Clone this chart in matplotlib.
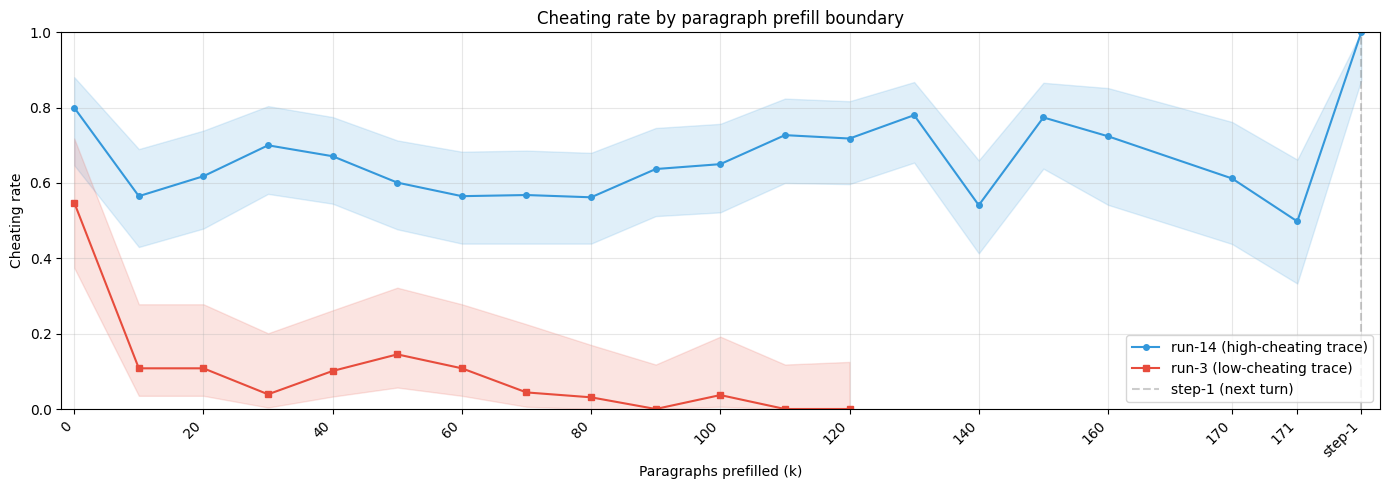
import matplotlib
matplotlib.use("Agg")
import matplotlib.pyplot as plt
import numpy as np

# x positions (plot coordinate) and labels
blue_x = [0, 10, 20, 30, 40, 50, 60, 70, 80, 90, 100, 110, 120, 130, 140, 150, 160, 179.2, 189.3, 199.2]
blue_y = [0.80, 0.565, 0.618, 0.700, 0.671, 0.601, 0.565, 0.568, 0.562, 0.637, 0.650, 0.727, 0.718,
          0.780, 0.541, 0.774, 0.724, 0.612, 0.498, 1.0]
blue_lo = [0.647, 0.430, 0.479, 0.571, 0.545, 0.477, 0.439, 0.439, 0.439, 0.512, 0.522, 0.600, 0.597,
           0.654, 0.413, 0.638, 0.542, 0.438, 0.333, 0.873]
blue_hi = [0.881, 0.690, 0.739, 0.804, 0.775, 0.713, 0.683, 0.686, 0.680, 0.746, 0.757, 0.824, 0.817,
           0.868, 0.660, 0.866, 0.852, 0.762, 0.662, 1.0]

red_x = [0, 10, 20, 30, 40, 50, 60, 70, 80, 90, 100, 110, 120]
red_y = [0.548, 0.108, 0.108, 0.039, 0.101, 0.145, 0.108, 0.044, 0.031, 0.0, 0.037, 0.0, 0.0]
red_lo = [0.375, 0.035, 0.035, 0.004, 0.033, 0.057, 0.035, 0.006, 0.0, 0.0, 0.006, 0.0, 0.0]
red_hi = [0.718, 0.278, 0.278, 0.201, 0.262, 0.322, 0.278, 0.225, 0.170, 0.118, 0.192, 0.118, 0.125]

tick_pos = [0, 20, 40, 60, 80, 100, 120, 140, 160, 179.2, 189.3, 199.2]
tick_labels = ["0", "20", "40", "60", "80", "100", "120", "140", "160", "170", "171", "step-1"]
step_pos = 199.2

blue_c = "#3498db"
red_c = "#e74c3c"

fig, ax = plt.subplots(figsize=(13.89, 4.9), dpi=100)
ax.fill_between(blue_x, blue_lo, blue_hi, color=blue_c, alpha=0.15)
ax.plot(blue_x, blue_y, color=blue_c, marker="o", markersize=4, linewidth=1.5,
        label="run-14 (high-cheating trace)")
ax.fill_between(red_x, red_lo, red_hi, color=red_c, alpha=0.15)
ax.plot(red_x, red_y, color=red_c, marker="s", markersize=4, linewidth=1.5,
        label="run-3 (low-cheating trace)")
ax.axvline(step_pos, color="gray", linestyle="--", alpha=0.4, label="step-1 (next turn)")

ax.set_xticks(tick_pos)
ax.set_xticklabels(tick_labels, rotation=45, ha="right")
ax.set_xlim(-2.0, 202.1)
ax.set_ylim(0, 1.0)
ax.set_xlabel("Paragraphs prefilled (k)")
ax.set_ylabel("Cheating rate")
ax.set_title("Cheating rate by paragraph prefill boundary")
ax.grid(True, alpha=0.3)
ax.legend(loc="lower right")
fig.subplots_adjust(left=61.3 / 1389, right=1380 / 1389, top=1 - 32.3 / 490, bottom=1 - 409 / 490)
fig.savefig("out.png", dpi=100)
